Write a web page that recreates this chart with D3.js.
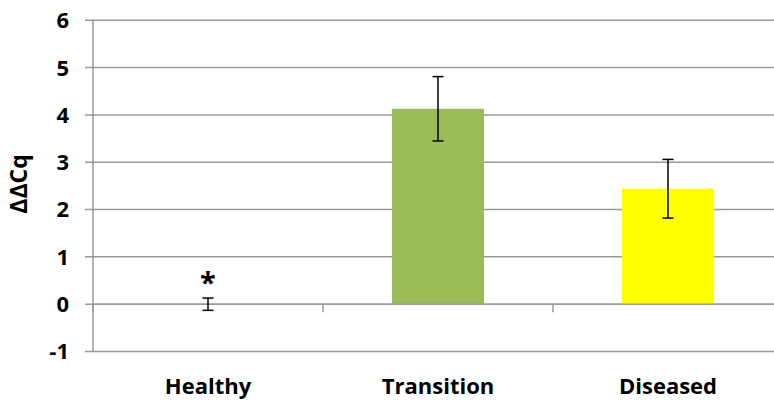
<!DOCTYPE html>
<html>
<head>
<meta charset="utf-8">
<script src="https://cdn.jsdelivr.net/npm/d3@7"></script>
<style>
  body { margin: 0; background: #fff; }
  svg text { font-family: "Open Sans", Lato, sans-serif; font-weight: bold; fill: #000; }
</style>
</head>
<body>
<div id="chart"></div>
<script>
const categories = ["Healthy", "Transition", "Diseased"];
const values = [0, 4.13, 2.44];
const errors = [0.13, 0.68, 0.62];
const barColors = ["#9bbb59", "#9bbb59", "#ffff00"];
const markers = ["*", "", ""];
const yTicks = [-1, 0, 1, 2, 3, 4, 5, 6];

const width = 774, height = 400;
const margin = {top: 20, left: 93};

const svg = d3.select("#chart")
    .append("svg")
    .attr("width", width)
    .attr("height", height);

const y = d3.scaleLinear()
    .domain([-1, 6])
    .range([351.5, 20.3]);

// plot runs past the right edge of the picture in the original
const x = d3.scaleBand()
    .domain(categories)
    .range([margin.left, 783])
    .paddingInner(0)
    .paddingOuter(0);

const barW = x.bandwidth() * 0.4;

// gridlines + y ticks
svg.selectAll("line.grid")
    .data(yTicks).enter()
    .append("line")
        .attr("class", "grid")
        .attr("x1", margin.left - 8)
        .attr("x2", 783)
        .attr("y1", d => y(d))
        .attr("y2", d => y(d))
        .attr("stroke", "#999")
        .attr("stroke-width", 1.5);

svg.selectAll("text.ytick")
    .data(yTicks).enter()
    .append("text")
        .attr("class", "ytick")
        .attr("x", 69)
        .attr("y", d => y(d))
        .attr("dy", "0.36em")
        .attr("text-anchor", "end")
        .attr("font-size", 22)
        .text(d => d);

// y axis line
svg.append("line")
    .attr("x1", margin.left).attr("x2", margin.left)
    .attr("y1", y(6)).attr("y2", y(-1))
    .attr("stroke", "#999")
    .attr("stroke-width", 1.5);

// category ticks below the zero line
const catEdges = categories.map(c => x(c)).concat([x(categories[2]) + x.bandwidth()]);
svg.selectAll("line.xtick")
    .data(catEdges).enter()
    .append("line")
        .attr("class", "xtick")
        .attr("x1", d => d).attr("x2", d => d)
        .attr("y1", y(0)).attr("y2", y(0) + 8)
        .attr("stroke", "#999")
        .attr("stroke-width", 1.5);

// bars
svg.selectAll("rect.bar")
    .data(categories).enter()
    .append("rect")
        .attr("class", "bar")
        .attr("x", d => x(d) + (x.bandwidth() - barW) / 2)
        .attr("width", barW)
        .attr("y", (d, i) => y(Math.max(0, values[i])))
        .attr("height", (d, i) => Math.abs(y(values[i]) - y(0)))
        .attr("fill", (d, i) => barColors[i]);

// redraw zero line over bars
svg.append("line")
    .attr("x1", margin.left).attr("x2", 783)
    .attr("y1", y(0)).attr("y2", y(0))
    .attr("stroke", "#999")
    .attr("stroke-width", 1.5);

// error bars
const eb = svg.selectAll("g.err")
    .data(categories).enter()
    .append("g")
        .attr("class", "err")
        .attr("transform", d => `translate(${x(d) + x.bandwidth() / 2},0)`);

eb.append("line")
    .attr("y1", (d, i) => y(values[i] + errors[i]))
    .attr("y2", (d, i) => y(values[i] - errors[i]))
    .attr("stroke", "#000").attr("stroke-width", 1.5);
eb.append("line")
    .attr("x1", -5.5).attr("x2", 5.5)
    .attr("y1", (d, i) => y(values[i] + errors[i]))
    .attr("y2", (d, i) => y(values[i] + errors[i]))
    .attr("stroke", "#000").attr("stroke-width", 1.5);
eb.append("line")
    .attr("x1", -5.5).attr("x2", 5.5)
    .attr("y1", (d, i) => y(values[i] - errors[i]))
    .attr("y2", (d, i) => y(values[i] - errors[i]))
    .attr("stroke", "#000").attr("stroke-width", 1.5);

eb.append("text")
    .attr("text-anchor", "middle")
    .attr("y", (d, i) => y(values[i] + errors[i]) - 5)
    .attr("font-size", 29)
    .text((d, i) => markers[i]);

// category labels
svg.selectAll("text.cat")
    .data(categories).enter()
    .append("text")
        .attr("class", "cat")
        .attr("x", d => x(d) + x.bandwidth() / 2)
        .attr("y", 394)
        .attr("text-anchor", "middle")
        .attr("font-size", 22)
        .text(d => d);

// y label
svg.append("text")
    .attr("transform", "translate(27,184) rotate(-90)")
    .attr("text-anchor", "middle")
    .attr("font-size", 23)
    .text("ΔΔCq");
</script>
</body>
</html>
